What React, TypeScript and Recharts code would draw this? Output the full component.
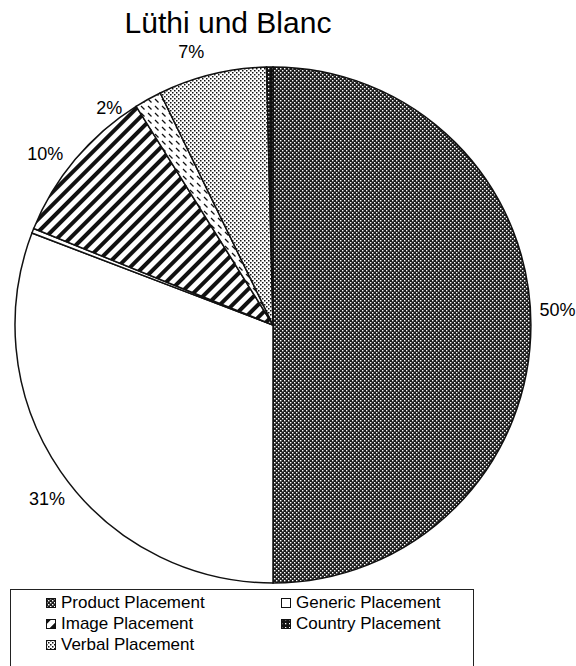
import React from 'react';
import { PieChart, Pie, Cell } from 'recharts';

const CATEGORIES = [
  'Product Placement',
  'Generic Placement',
  'Gap',
  'Image Placement',
  'Other Placement',
  'Verbal Placement',
  'Country Placement',
];
const VALUES = [50, 30.8, 0.3, 10, 1.7, 6.8, 0.4];
const FILLS = [
  'url(#pProduct)',
  '#ffffff',
  '#ffffff',
  'url(#pImage)',
  'url(#pOther)',
  'url(#pVerbal)',
  'url(#pCountry)',
];
const LEGEND_ITEMS = [
  'Product Placement',
  'Generic Placement',
  'Image Placement',
  'Country Placement',
  'Verbal Placement',
];

const data = CATEGORIES.map((name, i) => ({ name, value: VALUES[i] }));
const fillFor = (name: string) => FILLS[CATEGORIES.indexOf(name)];

const RADIAN = Math.PI / 180;
const FONT = '"Liberation Sans", Arial, sans-serif';

const renderLabel = (props: any) => {
  const { cx, cy, midAngle, outerRadius, percent } = props;
  if (percent < 0.01) return null;
  // small slice label sits a little further round, like the original
  const small = percent < 0.03;
  const r = outerRadius + (small ? 14 : 27);
  const a = (midAngle + (small ? 8 : 3)) * RADIAN;
  const x = cx + r * Math.cos(a);
  const y = cy - r * Math.sin(a);
  return (
    <text x={x} y={y} textAnchor="middle" dominantBaseline="central"
      fontFamily={FONT} fontSize={18} fill="#000">
      {`${Math.round(percent * 100)}%`}
    </text>
  );
};

const Patterns = () => (
  <svg width={0} height={0} style={{ position: 'absolute' }}>
    <defs>
      <pattern id="pProduct" width={4} height={4} patternUnits="userSpaceOnUse">
        <rect width={4} height={4} fill="#1c1c1c" />
        <rect x={0} y={0} width={1.4} height={1.4} fill="#fff" />
        <rect x={2} y={2} width={1.4} height={1.4} fill="#fff" />
      </pattern>
      <pattern id="pVerbal" width={4} height={4} patternUnits="userSpaceOnUse">
        <rect width={4} height={4} fill="#fff" />
        <rect x={0} y={0} width={1.5} height={1.5} fill="#111" />
        <rect x={2} y={2} width={1.5} height={1.5} fill="#111" />
      </pattern>
      <pattern id="pImage" width={9} height={9} patternUnits="userSpaceOnUse" patternTransform="rotate(45)">
        <rect width={9} height={9} fill="#fff" />
        <rect x={0} y={0} width={4} height={9} fill="#111" />
      </pattern>
      <pattern id="pOther" width={7} height={7} patternUnits="userSpaceOnUse">
        <rect width={7} height={7} fill="#fff" />
        <line x1={1} y1={1} x2={4.5} y2={4.5} stroke="#111" strokeWidth={1.3} />
      </pattern>
      <pattern id="pCountry" width={4} height={4} patternUnits="userSpaceOnUse">
        <rect width={4} height={4} fill="#111" />
        <rect x={0} y={0} width={1.3} height={1.3} fill="#fff" />
      </pattern>
    </defs>
  </svg>
);

export default function App() {
  return (
    <div style={{ position: 'absolute', left: 0, top: 0, width: 576, height: 666, background: '#fff', overflow: 'hidden', fontFamily: FONT }}>
      <Patterns />
      <div style={{ position: 'absolute', top: 7, left: 0, width: 456, textAlign: 'center', fontSize: 30, lineHeight: '32px', color: '#000' }}>
        Lüthi und Blanc
      </div>
      <PieChart width={576} height={590} style={{ position: 'absolute', left: 0, top: 0 }}>
        <Pie
          data={data}
          dataKey="value"
          nameKey="name"
          cx={268}
          cy={320}
          outerRadius={258}
          startAngle={90}
          endAngle={-270}
          stroke="#111"
          strokeWidth={1.5}
          label={renderLabel}
          labelLine={false}
          isAnimationActive={false}
        >
          {data.map((entry, index) => (
            <Cell key={`cell-${index}`} fill={fillFor(entry.name)} />
          ))}
        </Pie>
      </PieChart>
      <div style={{ position: 'absolute', left: 10, top: 589, width: 464, height: 90, border: '1px solid #222', boxSizing: 'border-box' }}>
        {LEGEND_ITEMS.map((name, i) => (
          <div key={name} style={{
            position: 'absolute',
            left: i % 2 === 0 ? 35 : 270,
            top: 3 + Math.floor(i / 2) * 21,
            display: 'flex', alignItems: 'center', fontSize: 17, lineHeight: '20px', color: '#000', whiteSpace: 'nowrap',
          }}>
            <svg width={10} height={10} style={{ marginRight: 5 }}>
              <rect x={0.5} y={0.5} width={9} height={9} fill={fillFor(name)} stroke="#111" strokeWidth={1} />
            </svg>
            {name}
          </div>
        ))}
      </div>
    </div>
  );
}
